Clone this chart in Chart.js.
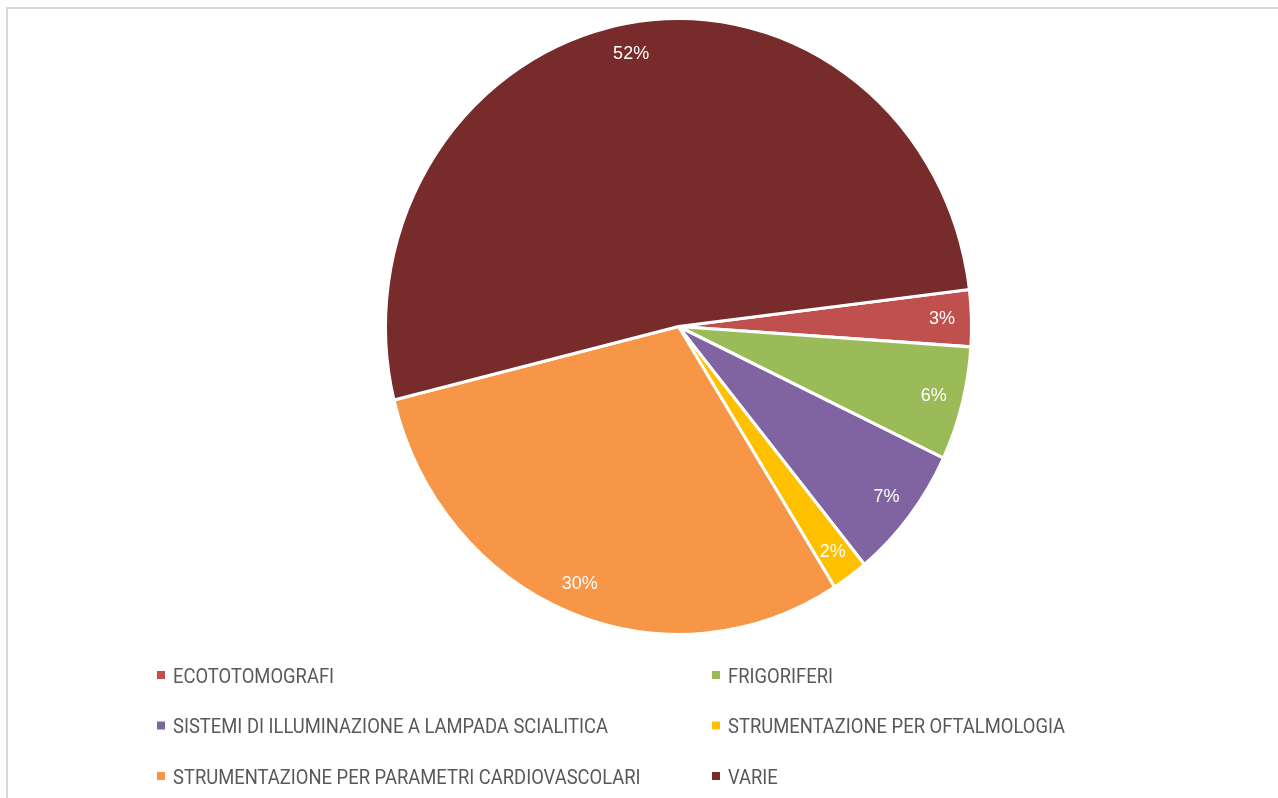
<!DOCTYPE html>
<html>
<head>
<meta charset="utf-8">
<title>Pie</title>
<script src="https://cdn.jsdelivr.net/npm/chart.js@4.4.1/dist/chart.umd.min.js"></script>
<style>
    html, body { margin: 0; padding: 0; background: #fff; overflow: hidden; }
    #frame {
        position: absolute; left: 6px; top: 7px; width: 1400px; height: 900px;
        border-top: 2px solid #d9d9d9; border-left: 2px solid #d9d9d9;
    }
    #pieChart { position: absolute; left: 0; top: 0; }
</style>
</head>
<body>
<div id="frame"></div>
<canvas id="pieChart" width="1278" height="798"></canvas>
<script>
// Data (share of the whole, in %)
const categories = [
    'ECOTOTOMOGRAFI',
    'FRIGORIFERI',
    'SISTEMI DI ILLUMINAZIONE A LAMPADA SCIALITICA',
    'STRUMENTAZIONE PER OFTALMOLOGIA',
    'STRUMENTAZIONE PER PARAMETRI CARDIOVASCOLARI',
    'VARIE'
];
const shares = [2.97, 5.97, 7.03, 2.0, 30.1, 51.9];
const colors = ['#c0504d', '#9bbb59', '#8064a2', '#ffc000', '#f79646', '#772b2a'];

// the original picture is slightly stretched vertically
const stretchY = 1.051;

// Stretch the pie vertically around its centre, then put the percent labels on
const ellipsePlugin = {
    id: 'ellipse',
    beforeDatasetsDraw(chart) {
        const arc = chart.getDatasetMeta(0).data[0];
        const ctx = chart.ctx;
        ctx.save();
        ctx.translate(arc.x, arc.y);
        ctx.scale(1, stretchY);
        ctx.translate(-arc.x, -arc.y);
    },
    afterDatasetsDraw(chart) {
        chart.ctx.restore();

        const ctx = chart.ctx;
        const total = shares.reduce((a, b) => a + b, 0);
        ctx.save();
        ctx.fillStyle = '#ffffff';
        ctx.font = '18px "Liberation Sans", Arial, sans-serif';
        ctx.textAlign = 'center';
        ctx.textBaseline = 'middle';
        chart.getDatasetMeta(0).data.forEach((arc, i) => {
            const mid = (arc.startAngle + arc.endAngle) / 2;
            const r = arc.outerRadius * 0.9;
            const x = arc.x + Math.cos(mid) * r;
            const y = arc.y + Math.sin(mid) * r * stretchY;
            ctx.save();
            ctx.translate(x, y);
            ctx.scale(1, stretchY);
            ctx.fillText(Math.round(shares[i] / total * 100) + '%', 0, 0);
            ctx.restore();
        });
        ctx.restore();
    }
};

// Two-column legend under the pie
const legendPlugin = {
    id: 'twoColLegend',
    afterDraw(chart) {
        const ctx = chart.ctx;
        const colX = [157, 712];
        const firstBaseline = 682.5;
        const rowGap = 50.5;
        ctx.save();
        ctx.font = '18.4px Roboto, sans-serif';
        ctx.textBaseline = 'alphabetic';
        ctx.textAlign = 'left';
        categories.forEach((label, i) => {
            const x = colX[i % 2];
            const base = firstBaseline + Math.floor(i / 2) * rowGap;
            ctx.fillStyle = colors[i];
            ctx.fillRect(x, base - 11.5, 8, 8);
            ctx.save();
            ctx.translate(x + 16, base);
            ctx.scale(1, stretchY);
            ctx.fillStyle = '#595959';
            ctx.fillText(label, 0, 0);
            ctx.restore();
        });
        ctx.restore();
    }
};

new Chart(document.getElementById('pieChart'), {
    type: 'pie',
    data: {
        labels: categories,
        datasets: [{
            data: shares,
            backgroundColor: colors,
            borderColor: '#ffffff',
            borderWidth: 3,
            hoverOffset: 0
        }]
    },
    options: {
        responsive: false,
        animation: false,
        rotation: 83.1,
        radius: 293,
        layout: {
            padding: { left: 100, right: 21, top: 20, bottom: 165 }
        },
        plugins: {
            legend: { display: false },
            tooltip: { enabled: false }
        }
    },
    plugins: [ellipsePlugin, legendPlugin]
});
</script>
</body>
</html>
